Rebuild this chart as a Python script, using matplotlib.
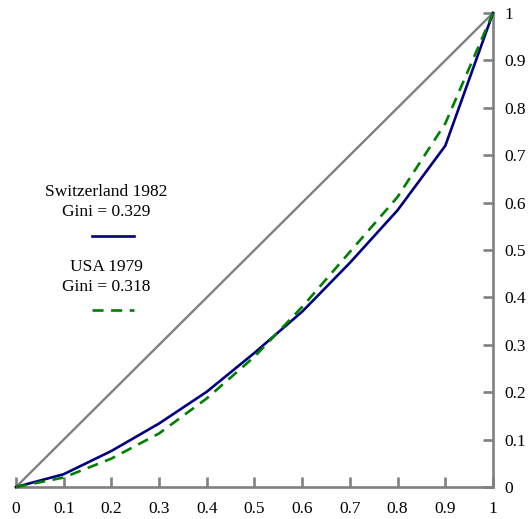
import matplotlib
matplotlib.use("Agg")
import matplotlib.pyplot as plt
from matplotlib.lines import Line2D

# cumulative share of population (deciles)
population = [0.0, 0.1, 0.2, 0.3, 0.4, 0.5, 0.6, 0.7, 0.8, 0.9, 1.0]
# cumulative share of income
switzerland_1982 = [0.0, 0.027, 0.076, 0.134, 0.201, 0.283, 0.370, 0.473, 0.584, 0.720, 1.0]
usa_1979 = [0.0, 0.020, 0.060, 0.113, 0.187, 0.275, 0.380, 0.496, 0.612, 0.767, 1.0]
equality = [0.0, 1.0]

tick_values = [0.0, 0.1, 0.2, 0.3, 0.4, 0.5, 0.6, 0.7, 0.8, 0.9, 1.0]
tick_labels = ["0", "0.1", "0.2", "0.3", "0.4", "0.5", "0.6", "0.7", "0.8", "0.9", "1"]

swiss_label = "Switzerland 1982\nGini = 0.329"
usa_label = "USA 1979\nGini = 0.318"

NAVY = "#000080"
GREEN = "#008000"
GREY = "#808080"
LW = 1.9
DASH = (4.2, 2.85)

plt.rcParams["font.family"] = ["Liberation Serif", "DejaVu Serif"]

W, H = 529, 519


def px(x, y):
    # pixel position (from top-left) to figure fraction
    return x / W, 1 - y / H


fig = plt.figure(figsize=(W / 100, H / 100), dpi=100)
ax = fig.add_axes([16 / W, 1 - 487 / H, 477 / W, 474 / H])

ax.plot(equality, equality, color=GREY, lw=1.7, clip_on=False, zorder=2)
ax.plot(population, switzerland_1982, color=NAVY, lw=LW, clip_on=False, zorder=3)
ax.plot(population, usa_1979, color=GREEN, lw=LW, dashes=DASH,
        clip_on=False, zorder=4)

ax.set_xlim(0, 1)
ax.set_ylim(0, 1)

for side in ["top", "left"]:
    ax.spines[side].set_visible(False)
for side in ["bottom", "right"]:
    ax.spines[side].set_color(GREY)
    ax.spines[side].set_linewidth(1.9)

ax.set_xticks(tick_values)
ax.set_xticklabels(tick_labels)
ax.set_yticks(tick_values)
ax.set_yticklabels(tick_labels)
ax.yaxis.tick_right()
ax.tick_params(axis="both", direction="in", length=7, width=1.9, color=GREY,
               labelsize=12.5, labelcolor="black")
ax.tick_params(axis="x", pad=10)
ax.tick_params(axis="y", pad=8.5)

# legend block: label above its line key
fig.text(*px(106, 202), swiss_label, ha="center", va="center",
         fontsize=12.5, linespacing=1.3)
fig.text(*px(106, 277), usa_label, ha="center", va="center",
         fontsize=12.5, linespacing=1.3)

(x0, y1), (x1, _) = px(92, 236), px(134, 236)
fig.add_artist(Line2D([x0, x1], [y1, y1], transform=fig.transFigure,
                      color=NAVY, lw=LW))
(x0, y2), (x1, _) = px(92, 310), px(134, 310)
fig.add_artist(Line2D([x0, x1], [y2, y2], transform=fig.transFigure,
                      color=GREEN, lw=LW, dashes=DASH))

fig.savefig("out.png", dpi=100)
